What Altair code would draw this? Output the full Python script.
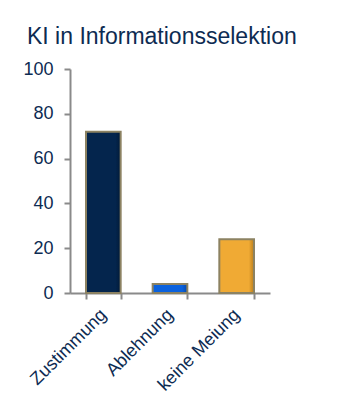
import altair as alt
import pandas as pd

categories = ["Zustimmung", "Ablehnung", "keine Meiung"]
values = [72, 4, 24]
colors = ["#04254d", "#0b62de", "#f0aa34"]
edge_colors = ["#011a38", "#0748a8", "#b87d1e"]

df = pd.DataFrame({"Kategorie": categories, "Wert": values})

navy = "#0d2b52"
font = "Liberation Sans"

x_enc = alt.X("Kategorie:N", sort=categories,
              scale=alt.Scale(paddingInner=0.48, paddingOuter=0.24),
              axis=alt.Axis(title=None, labelAngle=-45, labelAlign="right",
                            labelBaseline="middle", tickBand="extent",
                            tickSize=6, labelPadding=13, labelFontSize=18,
                            labelColor=navy, labelFont=font,
                            domainColor="#8a8a8a", tickColor="#8a8a8a",
                            domainWidth=2, tickWidth=2, grid=False))
y_enc = alt.Y("Wert:Q", scale=alt.Scale(domain=[0, 100]),
              axis=alt.Axis(title=None, values=[0, 20, 40, 60, 80, 100],
                            tickSize=6, labelPadding=11, labelFontSize=18,
                            labelColor=navy, labelFont=font,
                            domainColor="#8a8a8a", tickColor="#8a8a8a",
                            domainWidth=2, tickWidth=2, grid=False))

layers = []
for cat, col, edge in zip(categories, colors, edge_colors):
    grad = alt.Gradient(
        gradient="linear", x1=0, x2=1, y1=0, y2=0,
        stops=[alt.GradientStop(color=col, offset=0),
               alt.GradientStop(color=col, offset=0.85),
               alt.GradientStop(color=edge, offset=1)])
    layers.append(
        alt.Chart(df).transform_filter(alt.datum.Kategorie == cat)
        .mark_bar(stroke="#8c8262", strokeWidth=2, fill=grad)
        .encode(x=x_enc, y=y_enc)
    )

chart = alt.layer(*layers).properties(
    width=200, height=224,
    title=alt.TitleParams("KI in Informationsselektion", anchor="start",
                          fontSize=23, font=font, fontWeight="normal",
                          color=navy, dx=4, offset=11),
    autosize=alt.AutoSizeParams(type="none"),
    padding={"left": 70, "top": 69, "right": 72, "bottom": 122},
).configure_view(stroke=None)

chart.save("out.html", embed_options={"renderer": "svg", "actions": False})
